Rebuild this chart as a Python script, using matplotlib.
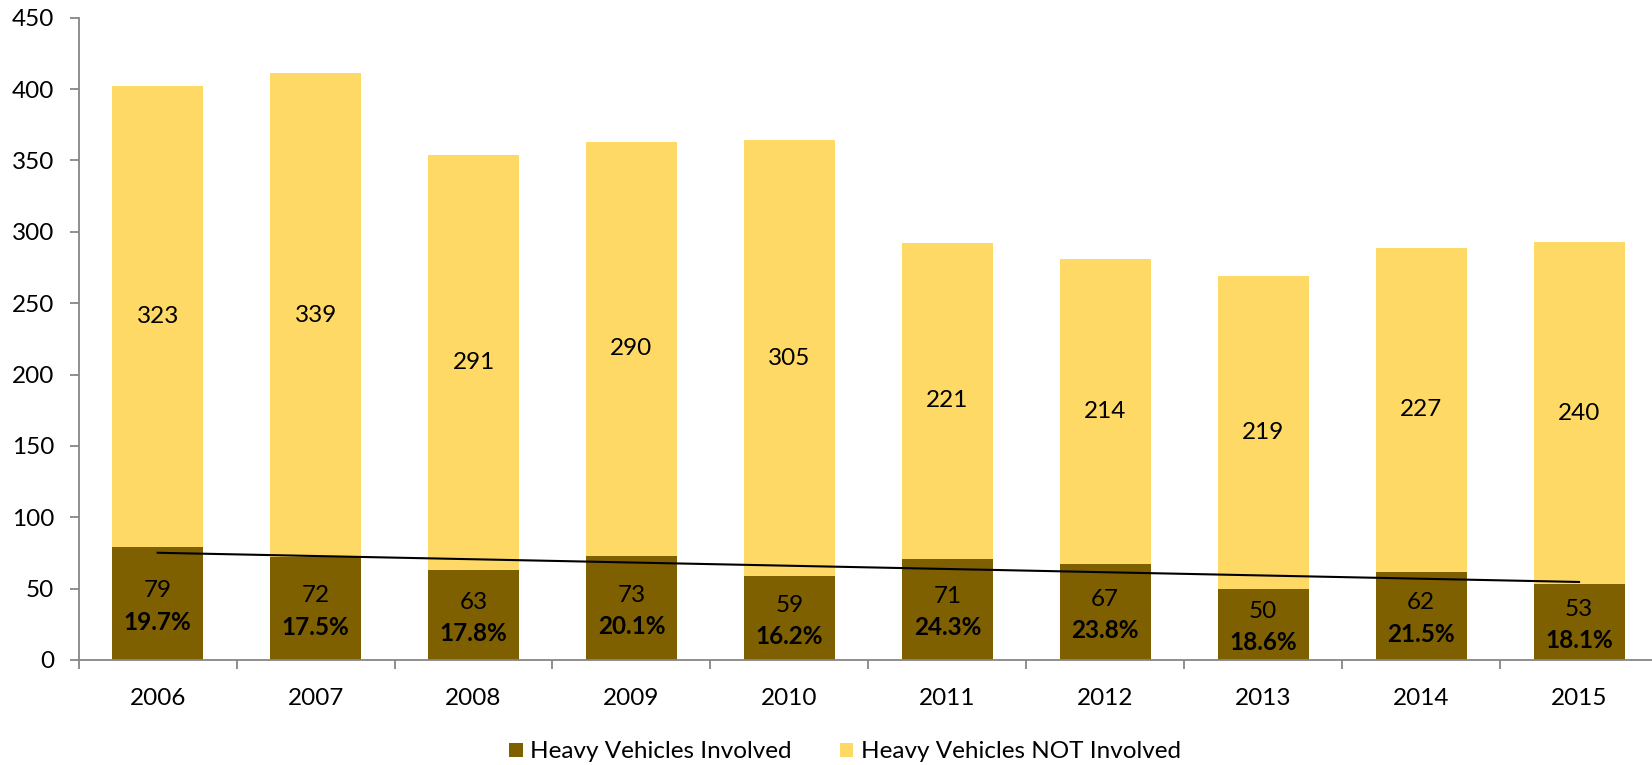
import numpy as np
import matplotlib
matplotlib.use("Agg")
import matplotlib.pyplot as plt
from matplotlib.ticker import MultipleLocator, FixedLocator

years = ["2006", "2007", "2008", "2009", "2010", "2011", "2012", "2013", "2014", "2015"]
involved = [79, 72, 63, 73, 59, 71, 67, 50, 62, 53]
not_involved = [323, 339, 291, 290, 305, 221, 214, 219, 227, 240]
pct_labels = ["19.7%", "17.5%", "17.8%", "20.1%", "16.2%", "24.3%", "23.8%", "18.6%", "21.5%", "18.1%"]

plt.rcParams['font.family'] = ['Lato', 'DejaVu Sans']

DARK = "#7F6000"
LIGHT = "#FFD966"
GRAY = "#868686"

W, H = 1652, 765
fig = plt.figure(figsize=(W / 100, H / 100), dpi=100)
left, right, top, bottom = 78.7, 1658, 17.7, 660
ax = fig.add_axes([left / W, 1 - bottom / H, (right - left) / W, (bottom - top) / H])

x = np.arange(len(years))
bw = 0.576
b1 = ax.bar(x, involved, bw, color=DARK, label="Heavy Vehicles Involved", zorder=2)
b2 = ax.bar(x, not_involved, bw, bottom=involved, color=LIGHT,
            label="Heavy Vehicles NOT Involved", zorder=2)

# linear trendline of involved
coef = np.polyfit(x, involved, 1)
ax.plot(x, np.polyval(coef, x), color="black", lw=1.5, zorder=3)

fs = 17.5
for i in range(len(years)):
    v = involved[i]
    ax.text(x[i], v / 2 + 9.0, str(v), ha="center", va="center", fontsize=fs, zorder=4)
    ax.text(x[i], v / 2 - 13.0, pct_labels[i], ha="center", va="center", fontsize=fs,
            fontweight="bold", zorder=4)
    ax.text(x[i], v + not_involved[i] / 2, str(not_involved[i]), ha="center", va="center",
            fontsize=fs, zorder=4)

ax.set_xlim(-0.5, len(years) - 0.5)
ax.set_ylim(0, 450)
ax.yaxis.set_major_locator(MultipleLocator(50))

ax.set_xticks(x)
ax.set_xticklabels(years)
ax.xaxis.set_minor_locator(FixedLocator(np.arange(-0.5, len(years), 1.0)))
ax.tick_params(axis="x", which="major", length=0, pad=20, labelsize=fs)
ax.tick_params(axis="x", which="minor", length=6.5, width=1.3, color=GRAY, direction="out")
ax.tick_params(axis="y", which="major", length=6.5, width=1.3, color=GRAY, direction="out",
               pad=11, labelsize=fs)

for s in ["top", "right"]:
    ax.spines[s].set_visible(False)
for s in ["left", "bottom"]:
    ax.spines[s].set_color(GRAY)
    ax.spines[s].set_linewidth(1.3)

leg = fig.legend(handles=[b1, b2], loc="center", bbox_to_anchor=(845 / W, 1 - 752 / H),
                 ncol=2, frameon=False, fontsize=fs, handlelength=0.55, handleheight=0.55,
                 handletextpad=0.3, columnspacing=2.0, borderaxespad=0)

fig.savefig("out.png", dpi=100)
